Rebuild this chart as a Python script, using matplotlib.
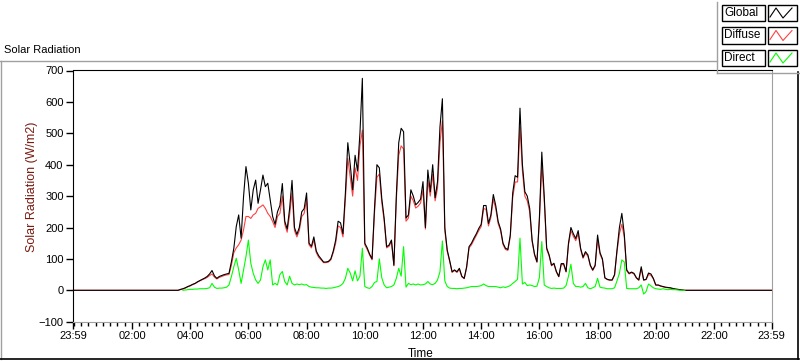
import numpy as np
import matplotlib.pyplot as plt
from matplotlib.lines import Line2D
from matplotlib.patches import Rectangle

plt.rcParams['font.family'] = ['Liberation Sans', 'DejaVu Sans']

series_names = ['Global', 'Diffuse', 'Direct']
series_colors = ['#000000', '#ff4040', '#00ff00']

# W/m2, one reading every 5 minutes from 03:30 to 21:00 (zero outside)
global_wm2 = [
    0, 0, 3, 5, 8, 12,
    15, 19, 22, 27, 31, 35, 39, 44, 52, 63, 46, 38,
    44, 47, 50, 52, 54, 91, 134, 203, 240, 166, 298, 394,
    341, 256, 320, 351, 277, 320, 367, 330, 341, 288, 235, 210,
    250, 270, 340, 220, 195, 260, 350, 200, 178, 200, 250, 260,
    310, 150, 140, 170, 125, 110, 100, 90, 90, 92, 100, 125,
    160, 220, 215, 180, 310, 470, 400, 320, 430, 380, 500, 675,
    150, 135, 115, 100, 260, 400, 390, 293, 229, 139, 144, 160,
    80, 300, 470, 516, 505, 230, 240, 320, 300, 272, 280, 290,
    346, 200, 383, 314, 400, 295, 346, 520, 610, 200, 128, 95,
    59, 65, 59, 70, 45, 38, 75, 139, 150, 166, 180, 197,
    210, 270, 270, 213, 240, 305, 270, 219, 195, 150, 134, 130,
    176, 310, 365, 360, 580, 400, 314, 300, 261, 160, 115, 91,
    230, 440, 300, 135, 113, 80, 86, 60, 44, 85, 85, 60,
    150, 200, 180, 165, 190, 134, 105, 123, 113, 80, 65, 80,
    176, 120, 100, 40, 35, 33, 33, 50, 128, 200, 245, 180,
    65, 54, 58, 54, 40, 33, 75, 33, 35, 55, 52, 38,
    17, 17, 14, 12, 10, 9, 8, 6, 4, 3, 2, 1,
    0,
]
diffuse_wm2 = [
    0, 0, 2, 4, 7, 11,
    14, 18, 21, 26, 30, 34, 37, 41, 47, 52, 42, 36,
    41, 44, 47, 49, 50, 80, 120, 135, 145, 160, 192, 235,
    235, 229, 240, 245, 261, 266, 272, 261, 245, 235, 219, 200,
    235, 245, 300, 210, 185, 240, 310, 190, 170, 190, 235, 245,
    290, 145, 135, 160, 120, 105, 97, 88, 88, 90, 97, 120,
    150, 205, 200, 170, 290, 420, 360, 300, 390, 350, 460, 510,
    145, 130, 112, 97, 245, 360, 370, 280, 220, 135, 140, 155,
    78, 285, 430, 460, 450, 220, 230, 300, 285, 262, 268, 278,
    320, 195, 350, 300, 370, 285, 325, 470, 540, 190, 124, 92,
    57, 63, 57, 67, 43, 37, 72, 135, 145, 160, 175, 190,
    203, 260, 258, 205, 232, 290, 260, 212, 190, 146, 130, 127,
    170, 295, 345, 345, 520, 380, 300, 285, 250, 155, 112, 89,
    220, 400, 285, 130, 110, 78, 84, 58, 43, 82, 82, 58,
    145, 190, 172, 158, 180, 130, 102, 118, 109, 78, 63, 77,
    160, 115, 97, 39, 34, 32, 32, 48, 122, 180, 210, 170,
    62, 52, 56, 52, 39, 32, 68, 32, 34, 50, 48, 36,
    16, 16, 13, 11, 9, 8, 7, 5, 4, 3, 2, 1,
    0,
]
direct_wm2 = [
    0, 0, 0, 0, 1, 2,
    3, 3, 4, 4, 5, 5, 5, 6, 8, 22, 10, 6,
    7, 7, 8, 10, 17, 44, 75, 102, 65, 22, 65, 107,
    160, 86, 54, 33, 22, 33, 75, 97, 65, 97, 17, 22,
    17, 50, 60, 28, 17, 45, 22, 17, 20, 18, 20, 17,
    18, 12, 10, 9, 8, 8, 7, 7, 6, 7, 7, 8,
    10, 12, 15, 22, 38, 70, 55, 30, 62, 30, 45, 134,
    12, 8, 6, 12, 25, 28, 100, 40, 17, 8, 10, 12,
    17, 38, 70, 45, 139, 10, 22, 18, 20, 17, 20, 17,
    18, 20, 28, 20, 18, 22, 33, 59, 157, 30, 12, 7,
    6, 6, 5, 6, 6, 7, 8, 10, 12, 12, 12, 13,
    15, 20, 15, 12, 12, 12, 12, 10, 8, 11, 9, 12,
    15, 22, 28, 35, 166, 20, 25, 15, 17, 15, 12, 13,
    40, 155, 17, 12, 8, 6, 7, 6, 6, 6, 7, 15,
    45, 83, 22, 12, 12, 10, 12, 22, 8, 5, 8, 12,
    38, 10, 8, 7, 5, 5, 5, 8, 30, 54, 97, 90,
    6, 5, 5, 5, 5, 8, 17, -12, -4, 20, 14, 8,
    5, 4, 3, 5, 3, 2, 3, 2, 2, 1, 0, 0,
    0,
]

tick_minutes = [-1, 120, 240, 360, 480, 600, 720, 840, 960, 1080, 1200, 1320, 1439]
tick_labels = ['23:59', '02:00', '04:00', '06:00', '08:00', '10:00', '12:00',
               '14:00', '16:00', '18:00', '20:00', '22:00', '23:59']

# minutes after midnight; global/diffuse padded with the zero readings at both ends of the day
t_day = np.arange(210, 1261, 5)
t = np.concatenate([[-1], t_day, [1439]])
pad = lambda v: np.concatenate([[0], v, [0]])

W, H = 800, 361
fx = lambda x: x / W
fy = lambda y: 1 - y / H

fig = plt.figure(figsize=(8, 3.61), dpi=100)
ax_l, ax_t, ax_r, ax_b = 73.3, 70.5, 771.7, 321.7
ax = fig.add_axes([fx(ax_l), fy(ax_b), (ax_r - ax_l) / W, (ax_b - ax_t) / H])

ax.plot(t, pad(diffuse_wm2), color=series_colors[1], lw=0.8, zorder=2)
ax.plot(t, pad(global_wm2), color=series_colors[0], lw=0.8, zorder=3)
ax.plot(t_day[3:], direct_wm2[3:], color=series_colors[2], lw=0.8, zorder=4)

ax.set_xlim(-1, 1439)
ax.set_ylim(-100, 700)
ax.set_xticks(tick_minutes)
ax.set_xticklabels(tick_labels)
ax.set_xticks(np.arange(0, 1440, 15), minor=True)
ax.set_yticks(np.arange(-100, 701, 100))
ax.tick_params(axis='both', labelsize=8, length=5, width=1, color='k', pad=2)
ax.tick_params(axis='x', which='minor', length=3, width=1)
ax.set_xlabel('Time', fontsize=8.5)
ax.set_ylabel('Solar Radiation (W/m2)', fontsize=9, color='#7a1a10')
ax.xaxis.set_label_coords((421 - ax_l) / (ax_r - ax_l), -(354 - ax_b) / (ax_b - ax_t))
ax.yaxis.set_label_coords((32 - ax_l) / (ax_r - ax_l), (ax_b - 187) / (ax_b - ax_t))
ax.xaxis.label.set_va('center')
ax.yaxis.label.set_va('center')

for side in ['top', 'left']:
    ax.spines[side].set_color('k')
for side in ['right', 'bottom']:
    ax.spines[side].set_color('#a0a0a0')

# chart title and sunken panel frame
fig.text(fx(4), fy(50), 'Solar Radiation', fontsize=8, va='center', ha='left')
fig.add_artist(Line2D([fx(0), fx(717)], [fy(61), fy(61)], color='#a0a0a0', lw=1))
fig.add_artist(Line2D([fx(1), fx(1)], [fy(61), fy(359)], color='#a0a0a0', lw=1))
fig.add_artist(Line2D([fx(0), fx(799)], [fy(359), fy(359)], color='k', lw=1.2))
fig.add_artist(Line2D([fx(798), fx(798)], [fy(72), fy(359)], color='k', lw=1.2))

# legend: label box + sample box per plot
fig.add_artist(Line2D([fx(717), fx(717)], [fy(2), fy(73)], color='#a0a0a0', lw=1))
fig.add_artist(Line2D([fx(717), fx(799)], [fy(73), fy(73)], color='#a0a0a0', lw=1))
for i, (name, col) in enumerate(zip(series_names, series_colors)):
    top = 5 + i * 22.5
    fig.add_artist(Rectangle((fx(722), fy(top + 16)), 43 / W, 16 / H,
                             fill=False, ec='k', lw=1))
    fig.add_artist(Rectangle((fx(768), fy(top + 16)), 29 / W, 16 / H,
                             fill=False, ec='k', lw=1))
    fig.text(fx(724), fy(top + 8), name, fontsize=8.5, va='center', ha='left')
    zx = [770, 776, 783, 792]
    zy = [top + 12, top + 3, top + 13, top + 3]
    fig.add_artist(Line2D([fx(v) for v in zx], [fy(v) for v in zy], color=col, lw=0.8))

fig.savefig('out.png', dpi=100)
